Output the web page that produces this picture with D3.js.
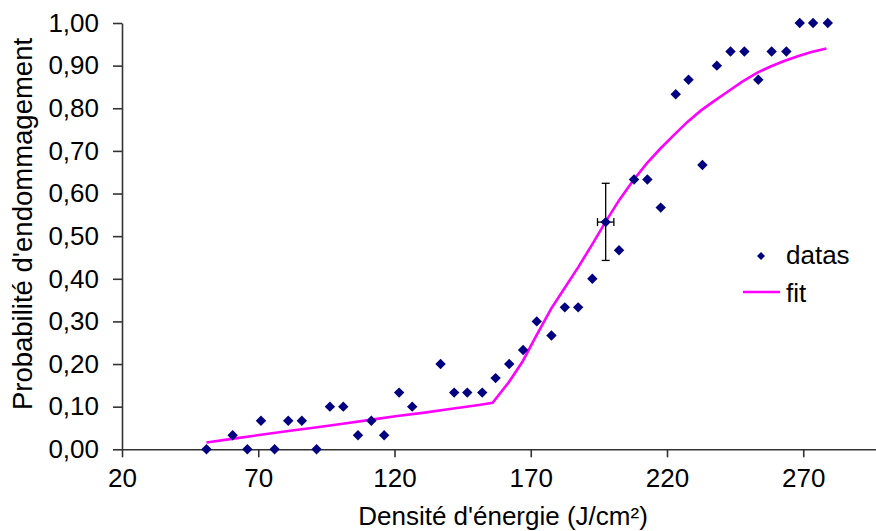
<!DOCTYPE html>
<html><head><meta charset="utf-8">
<script src="https://cdn.jsdelivr.net/npm/d3@7"></script>
<style>
html,body{margin:0;padding:0;background:#fff;overflow:hidden;}
text{font-family:"Liberation Sans",Arial,sans-serif;fill:#000;}
</style></head>
<body>
<script>
const xTicks = [20, 70, 120, 170, 220, 270];
const yTicks = [0, 0.1, 0.2, 0.3, 0.4, 0.5, 0.6, 0.7, 0.8, 0.9, 1.0];
const dataX = [51,60.6,66,71,76,81,86,91.4,96.3,101.2,106.6,111.5,116.2,121.7,126.5,136.9,141.9,146.7,152.2,157.1,162.1,167.2,172.2,177.6,182.5,187.4,192.6,197.5,202.4,207.9,212.8,217.7,223.2,227.9,233,238.3,243.3,248.4,253.5,258.4,263.8,268.7,273.6,279];
const dataY = [0,0.033,0,0.067,0,0.067,0.067,0,0.1,0.1,0.033,0.067,0.033,0.133,0.1,0.2,0.133,0.133,0.133,0.167,0.2,0.233,0.3,0.267,0.333,0.333,0.4,0.533,0.467,0.633,0.633,0.567,0.833,0.867,0.667,0.9,0.933,0.933,0.867,0.933,0.933,1,1,1];
const fitX = [51,61,71,81,91,101,111,121,131,141,151,156,162,167,172,177.5,182.5,187.5,192.5,197.5,202.5,207.5,212.5,217.5,222.5,227.5,232.5,237.5,242.5,247.5,253,258,263,268,273,278.5];
const fitY = [0.016,0.025,0.034,0.043,0.051,0.060,0.069,0.078,0.086,0.095,0.104,0.109,0.158,0.206,0.266,0.33,0.379,0.428,0.48,0.534,0.585,0.63,0.67,0.705,0.737,0.768,0.795,0.818,0.84,0.862,0.883,0.898,0.911,0.922,0.932,0.94];
const errPoint = [197.5, 0.533];
const errYRange = [0.443, 0.624];
const errXRange = [194.5, 200.5];
const seriesNames = ["datas", "fit"];

const W = 876, H = 531;
const svg = d3.select("body").append("svg").attr("width", W).attr("height", H);

const x = d3.scaleLinear().domain([20, 300]).range([122, 885]);
const y = d3.scaleLinear().domain([0, 1]).range([449.3, 23]);
const fmt = v => d3.format(".2f")(v).replace(".", ",");

// X axis
const xAxis = d3.axisBottom(x).tickValues(xTicks).tickSize(8).tickSizeOuter(0).tickPadding(6);
const gx = svg.append("g").attr("transform", `translate(0,${y(0)})`).call(xAxis);
gx.select(".domain").attr("stroke", "#333").attr("stroke-width", 1.6);
gx.selectAll(".tick line").attr("stroke", "#333").attr("stroke-width", 1.6);
gx.selectAll(".tick text").attr("font-size", 26).attr("font-family", "Liberation Sans, Arial, sans-serif").attr("dy", "0.93em");

// Y axis
const yAxis = d3.axisLeft(y).tickValues(yTicks).tickFormat(fmt).tickSize(9).tickSizeOuter(0).tickPadding(14);
const gy = svg.append("g").attr("transform", `translate(${x(20)},0)`).call(yAxis);
gy.select(".domain").attr("stroke", "#333").attr("stroke-width", 1.6);
gy.selectAll(".tick line").attr("stroke", "#333").attr("stroke-width", 1.6);
gy.selectAll(".tick text").attr("font-size", 26).attr("font-family", "Liberation Sans, Arial, sans-serif");

// Axis titles
svg.append("text").attr("x", 503).attr("y", 525).attr("text-anchor", "middle")
  .attr("font-size", 26).text("Densité d'énergie (J/cm²)");
svg.append("text").attr("transform", "translate(32,224) rotate(-90)").attr("text-anchor", "middle")
  .attr("font-size", 27.5).text("Probabilité d'endommagement");

// Fit line
const fitData = fitX.map((v, i) => [v, fitY[i]]);
svg.append("path").datum(fitData)
  .attr("fill", "none").attr("stroke", "#ff00ff").attr("stroke-width", 2.6)
  .attr("d", d3.line().x(d => x(d[0])).y(d => y(d[1])));

// Error bars
const eg = svg.append("g").attr("stroke", "#000").attr("stroke-width", 1.3);
const ex = x(errPoint[0]), ey = y(errPoint[1]);
eg.append("line").attr("x1", ex).attr("x2", ex).attr("y1", y(errYRange[0])).attr("y2", y(errYRange[1]));
eg.append("line").attr("x1", ex - 4).attr("x2", ex + 4).attr("y1", y(errYRange[0])).attr("y2", y(errYRange[0]));
eg.append("line").attr("x1", ex - 4).attr("x2", ex + 4).attr("y1", y(errYRange[1])).attr("y2", y(errYRange[1]));
eg.append("line").attr("x1", x(errXRange[0])).attr("x2", x(errXRange[1])).attr("y1", ey).attr("y2", ey);
eg.append("line").attr("x1", x(errXRange[0])).attr("x2", x(errXRange[0])).attr("y1", ey - 4).attr("y2", ey + 4);
eg.append("line").attr("x1", x(errXRange[1])).attr("x2", x(errXRange[1])).attr("y1", ey - 4).attr("y2", ey + 4);

// Data points (diamonds)
const diamond = s => `M0,${-s}L${s},0L0,${s}L${-s},0Z`;
const pts = dataX.map((v, i) => [v, dataY[i]]);
svg.append("g").selectAll("path").data(pts).join("path")
  .attr("transform", d => `translate(${x(d[0])},${y(d[1])})`)
  .attr("d", diamond(5.2)).attr("fill", "#000080");

// Legend
const lg = svg.append("g");
lg.append("path").attr("transform", "translate(761,256)").attr("d", diamond(4)).attr("fill", "#000080");
lg.append("text").attr("x", 786).attr("y", 264).attr("font-size", 26).text(seriesNames[0]);
lg.append("line").attr("x1", 743).attr("x2", 780).attr("y1", 292).attr("y2", 292)
  .attr("stroke", "#ff00ff").attr("stroke-width", 2.6);
lg.append("text").attr("x", 786).attr("y", 302).attr("font-size", 26).text(seriesNames[1]);
</script>
</body></html>
